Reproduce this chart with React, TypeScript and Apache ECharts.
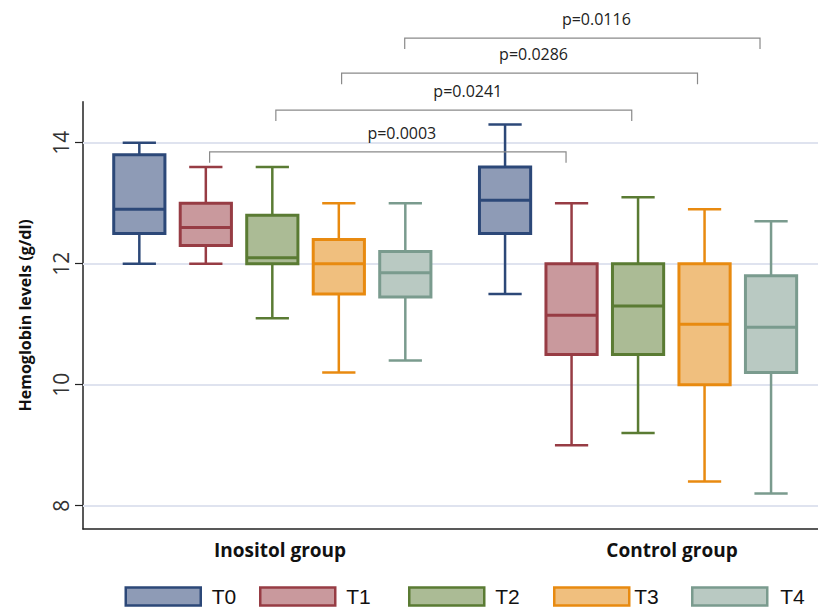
import React, { useEffect, useRef } from 'react';
import * as echarts from 'echarts';

const categories = ['T0', 'T1', 'T2', 'T3', 'T4'];
const groupNames = ['Inositol group', 'Control group'];
const groupStart = [0, 5.5];
// each row: [min, Q1, median, Q3, max]
const inositolStats = [
  [12.0, 12.5, 12.9, 13.8, 14.0],
  [12.0, 12.3, 12.6, 13.0, 13.6],
  [11.1, 12.0, 12.1, 12.8, 13.6],
  [10.2, 11.5, 12.0, 12.4, 13.0],
  [10.4, 11.45, 11.85, 12.2, 13.0],
];
const controlStats = [
  [11.5, 12.5, 13.05, 13.6, 14.3],
  [9.0, 10.5, 11.15, 12.0, 13.0],
  [9.2, 10.5, 11.3, 12.0, 13.1],
  [8.4, 10.0, 11.0, 12.0, 12.9],
  [8.2, 10.2, 10.95, 11.8, 12.7],
];
const yTicks = [8, 10, 12, 14];
const pLabels = ['p=0.0003', 'p=0.0241', 'p=0.0286', 'p=0.0116'];
const bracketStart = [1.057, 2.053, 3.042, 3.991];
const bracketEnd = [6.417, 7.405, 8.394, 9.334];
const bracketLevel = [13.85, 14.54, 15.15, 15.73];

const fills = ['#8e9bb6', '#c9999d', '#abbb95', '#f0bf7e', '#b9c9c2'];
const strokes = ['#2c4878', '#973c44', '#5a7b33', '#e88a10', '#7a9b8e'];

// legend placement (layout only)
const legendLeft = [124.5, 259, 408, 553, 691];
const legendTextPad = [
  [8, 0, 0, 6],
  [8, 0, 0, 6],
  [8, 0, 0, 6],
  [8, 0, 0, 0],
  [12, 0, 0, 8],
];

const FONT = '"Open Sans", "Noto Sans", sans-serif';

function makeBoxRender(fill: string, stroke: string) {
  return (params: any, api: any) => {
    const x = api.value(0);
    const vals = [1, 2, 3, 4, 5].map((d) => api.value(d));
    const pts = vals.map((v) => api.coord([x, v]));
    const cx = pts[0][0];
    const unit = api.size([1, 0])[0];
    const bw = unit * 0.77;
    const cw = unit * 0.5;
    const [yLo, yQ1, yMed, yQ3, yHi] = pts.map((p: number[]) => p[1]);
    const ls = { stroke, lineWidth: 2.5, fill: null };
    return {
      type: 'group',
      children: [
        { type: 'line', shape: { x1: cx, y1: yHi, x2: cx, y2: yQ3 }, style: ls },
        { type: 'line', shape: { x1: cx, y1: yQ1, x2: cx, y2: yLo }, style: ls },
        { type: 'line', shape: { x1: cx - cw / 2, y1: yHi, x2: cx + cw / 2, y2: yHi }, style: ls },
        { type: 'line', shape: { x1: cx - cw / 2, y1: yLo, x2: cx + cw / 2, y2: yLo }, style: ls },
        {
          type: 'rect',
          shape: { x: cx - bw / 2, y: yQ3, width: bw, height: yQ1 - yQ3 },
          style: { fill, stroke, lineWidth: 3 },
        },
        {
          type: 'line',
          shape: { x1: cx - bw / 2, y1: yMed, x2: cx + bw / 2, y2: yMed },
          style: { stroke, lineWidth: 3, fill: null },
        },
      ],
    };
  };
}

export default function App() {
  const ref = useRef<HTMLDivElement>(null);
  useEffect(() => {
    if (!ref.current) return;
    const chart = echarts.init(ref.current, null, { renderer: 'svg' });

    const boxSeries: any[] = categories.map((name, i) => ({
      name,
      type: 'custom',
      renderItem: makeBoxRender(fills[i], strokes[i]),
      itemStyle: { color: fills[i], borderColor: strokes[i] },
      encode: { x: 0, y: [1, 2, 3, 4, 5] },
      data: [
        [groupStart[0] + i, ...inositolStats[i]],
        [groupStart[1] + i, ...controlStats[i]],
      ],
      z: 3,
    }));
    boxSeries[0].markLine = {
      silent: true,
      symbol: ['none', 'none'],
      z: 1,
      animation: false,
      label: { show: false },
      emphasis: { disabled: true },
      lineStyle: { color: '#dfe3ef', width: 2, type: 'solid' },
      data: yTicks.map((v) => ({ yAxis: v })),
    };

    const bracketSeries = {
      name: 'brackets',
      type: 'custom',
      clip: false,
      encode: { x: [0, 1], y: 2 },
      data: pLabels.map((_, i) => [bracketStart[i], bracketEnd[i], bracketLevel[i]]),
      renderItem: (params: any, api: any) => {
        const p1 = api.coord([api.value(0), api.value(2)]);
        const p2 = api.coord([api.value(1), api.value(2)]);
        const y = p1[1];
        return {
          type: 'group',
          children: [
            {
              type: 'polyline',
              shape: { points: [[p1[0], y + 11], [p1[0], y], [p2[0], y], [p2[0], y + 11]] },
              style: { stroke: '#8a8a8a', lineWidth: 1.2, fill: null },
            },
            {
              type: 'text',
              x: (p1[0] + p2[0]) / 2 + 14,
              y: y - 19,
              style: {
                text: pLabels[params.dataIndex],
                align: 'center',
                verticalAlign: 'middle',
                font: '16px ' + FONT,
                fill: '#222',
              },
            },
          ],
        };
      },
      z: 4,
    };

    const legends = categories.map((n, i) => ({
      left: legendLeft[i],
      top: 586,
      padding: 0,
      itemWidth: 75,
      itemHeight: 18,
      icon: 'rect',
      selectedMode: false,
      textStyle: {
        fontFamily: '"Liberation Sans", Arial, sans-serif',
        fontSize: 21,
        color: '#111',
        padding: legendTextPad[i],
      },
      data: [{ name: n, itemStyle: { color: fills[i], borderColor: strokes[i], borderWidth: 2.5 } }],
    }));

    chart.setOption({
      animation: false,
      backgroundColor: '#ffffff',
      grid: { left: 83, right: 0, top: 101.7, bottom: 83, containLabel: false, outerBoundsMode: 'none' },
      xAxis: {
        type: 'value',
        min: -0.847,
        max: 10.206,
        axisLine: { show: true, onZero: false, lineStyle: { color: '#222', width: 1.5 } },
        axisTick: { show: false },
        axisLabel: { show: false },
        splitLine: { show: false },
      },
      yAxis: {
        type: 'value',
        min: 7.615,
        max: 14.678,
        name: 'Hemoglobin levels (g/dl)',
        nameLocation: 'middle',
        nameGap: 50,
        nameRotate: 90,
        nameTextStyle: { fontFamily: FONT, fontWeight: 'bold', fontSize: 16, color: '#111' },
        axisLine: { show: true, onZero: false, lineStyle: { color: '#222', width: 1.5 } },
        axisTick: { show: true, length: 8, customValues: yTicks, lineStyle: { color: '#222', width: 1.2 } },
        axisLabel: { customValues: yTicks, rotate: 90, fontSize: 21, fontFamily: FONT, color: '#333', margin: 12 },
        splitLine: { show: false },
      },
      legend: legends,
      graphic: [
        {
          type: 'text',
          x: 280,
          y: 550,
          style: { text: groupNames[0], font: 'bold 19px ' + FONT, fill: '#111', align: 'center', verticalAlign: 'middle' },
        },
        {
          type: 'text',
          x: 672,
          y: 550,
          style: { text: groupNames[1], font: 'bold 19px ' + FONT, fill: '#111', align: 'center', verticalAlign: 'middle' },
        },
      ],
      series: [...boxSeries, bracketSeries],
    });
    return () => chart.dispose();
  }, []);
  return (
    <div
      ref={ref}
      style={{ position: 'fixed', left: 0, top: 0, width: 818, height: 612, background: '#fff' }}
    />
  );
}
